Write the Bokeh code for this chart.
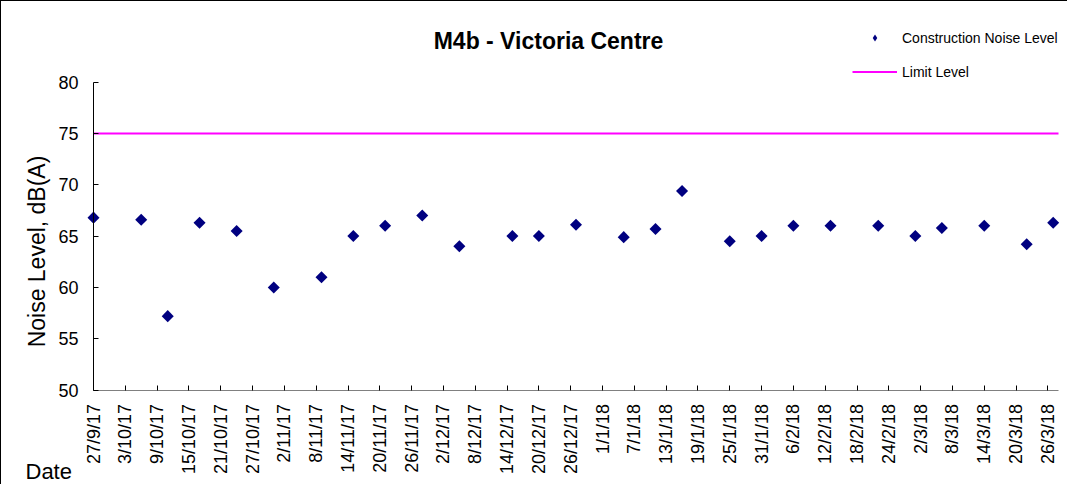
from datetime import datetime
from math import pi

from bokeh.plotting import figure, ColumnDataSource
from bokeh.models import Range1d, FixedTicker, Label, Legend, LegendItem
from bokeh.embed import file_html
from bokeh.resources import INLINE

# ---------------- data ----------------
title_text = "M4b - Victoria Centre"
y_label = "Noise Level, dB(A)"
x_label = "Date"
series_name = "Construction Noise Level"
limit_name = "Limit Level"

dates = ["27/9/17", "6/10/17", "11/10/17", "17/10/17", "24/10/17", "31/10/17",
         "9/11/17", "15/11/17", "21/11/17", "28/11/17", "5/12/17", "15/12/17",
         "20/12/17", "27/12/17", "5/1/18", "11/1/18", "16/1/18", "25/1/18",
         "31/1/18", "6/2/18", "13/2/18", "22/2/18", "1/3/18", "6/3/18",
         "14/3/18", "22/3/18", "27/3/18"]
noise = [66.8, 66.6, 57.2, 66.3, 65.5, 60.0, 61.0, 65.0, 66.0, 67.0, 64.0, 65.0,
         65.0, 66.1, 64.9, 65.7, 69.4, 64.5, 65.0, 66.0, 66.0, 66.0, 65.0, 65.8,
         66.0, 64.2, 66.3]
limit_level = 75

tick_labels = ["27/9/17", "3/10/17", "9/10/17", "15/10/17", "21/10/17", "27/10/17",
               "2/11/17", "8/11/17", "14/11/17", "20/11/17", "26/11/17", "2/12/17",
               "8/12/17", "14/12/17", "20/12/17", "26/12/17", "1/1/18", "7/1/18",
               "13/1/18", "19/1/18", "25/1/18", "31/1/18", "6/2/18", "12/2/18",
               "18/2/18", "24/2/18", "2/3/18", "8/3/18", "14/3/18", "20/3/18",
               "26/3/18"]
x_start = "27/9/17"
x_end = "28/3/18"
y_ticks = [50, 55, 60, 65, 70, 75, 80]
y_min, y_max = 50, 80

# ---------------- layout (pixels) ----------------
W, H = 1067, 484
AX_LEFT, AX_RIGHT = 92, 1057      # where x_start / x_end land
AX_TOP, AX_BOTTOM = 80.7, 388.5   # where y_max / y_min land
FONT = "Liberation Sans"
NAVY = "#000080"
MAGENTA = "#FF00FF"

origin = datetime.strptime(x_start, "%d/%m/%y")


def to_day(s):
    return (datetime.strptime(s, "%d/%m/%y") - origin).days


days = [to_day(d) for d in dates]
tick_days = [to_day(t) for t in tick_labels]
x0, x1 = to_day(x_start), to_day(x_end)

kx = (AX_RIGHT - AX_LEFT) / (x1 - x0)
ky = (AX_BOTTOM - AX_TOP) / (y_max - y_min)
xr = Range1d(x0 - AX_LEFT / kx, x1 + (W - AX_RIGHT) / kx)
yr = Range1d(y_min - (H - AX_BOTTOM) / ky, y_max + AX_TOP / ky)

p = figure(width=W, height=H, x_range=xr, y_range=yr,
           output_backend="svg", toolbar_location=None, title_location=None,
           min_border=0, min_border_left=0, min_border_right=0,
           min_border_top=0, min_border_bottom=0)
p.grid.visible = False
p.outline_line_color = None
p.background_fill_color = "white"
p.border_fill_color = "white"
p.styles = {"border-left": "1px solid black", "border-top": "1px solid black"}

# y axis (drawn at the first date, limited to its own range)
yax = p.yaxis[0]
yax.fixed_location = x0
yax.bounds = (y_min, y_max)
yax.ticker = FixedTicker(ticks=y_ticks)
yax.major_tick_in = 5
yax.major_tick_out = 0
yax.minor_tick_line_color = None
yax.axis_line_color = "black"
yax.major_tick_line_color = "black"
yax.major_label_text_font = FONT
yax.major_label_text_font_size = "18px"
yax.major_label_text_color = "black"
yax.major_label_standoff = 15

# x axis (drawn at y_min, limited to the date range)
xax = p.xaxis[0]
xax.fixed_location = y_min
xax.bounds = (x0, x1)
xax.ticker = FixedTicker(ticks=tick_days)
xax.major_label_overrides = {d: t for d, t in zip(tick_days, tick_labels)}
xax.major_label_orientation = pi / 2
xax.major_tick_in = 5
xax.major_tick_out = 0
xax.minor_tick_line_color = None
xax.axis_line_color = "#808080"
xax.major_tick_line_color = "black"
xax.major_label_text_font = FONT
xax.major_label_text_font_size = "18px"
xax.major_label_text_color = "black"
xax.major_label_standoff = 14

# glyphs
src = ColumnDataSource(dict(day=days, noise=noise))
r_pts = p.scatter(x="day", y="noise", source=src, marker="square", angle=pi / 4,
                  size=8.5, fill_color=NAVY, line_color=None)
# legend key: diamond of zero size in the plot (the legend sizes its own swatch)
r_key = p.scatter(x="day", y="noise", source=src, marker="diamond", size=0,
                  fill_color=NAVY, line_color=None)
r_lim = p.line(x=[x0, x1], y=[limit_level, limit_level],
               line_color=MAGENTA, line_width=2)

legend = Legend(items=[LegendItem(label=series_name, renderers=[r_key]),
                       LegendItem(label=limit_name, renderers=[r_lim])],
                location=(851, H - 79), glyph_width=45, glyph_height=17,
                label_height=12, spacing=17, padding=0, margin=0,
                label_standoff=5, border_line_color=None,
                background_fill_alpha=0, label_text_font=FONT,
                label_text_font_size="14px", label_text_color="black")
p.add_layout(legend)

# texts (screen units: x from left, y from bottom of the canvas)
p.add_layout(Label(x=547, y=H - 39, x_units="screen", y_units="screen",
                   text=title_text, text_align="center", text_baseline="middle",
                   text_font=FONT, text_font_size="23px", text_font_style="bold",
                   text_color="black"))
p.add_layout(Label(x=35, y=H - 250, x_units="screen", y_units="screen",
                   text=y_label, angle=pi / 2, text_align="center",
                   text_baseline="middle", text_font=FONT,
                   text_font_size="23px", text_color="black"))
p.add_layout(Label(x=24, y=H - 470, x_units="screen", y_units="screen",
                   text=x_label, text_align="left", text_baseline="middle",
                   text_font=FONT, text_font_size="22px", text_color="black"))

open("out.html", "w").write(file_html(p, INLINE))
